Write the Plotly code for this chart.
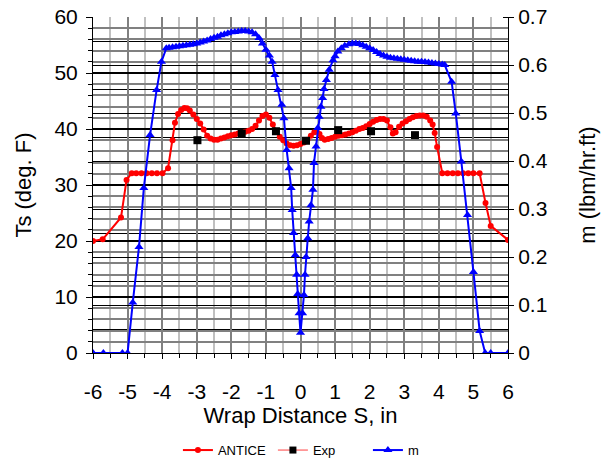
import plotly.graph_objects as go

# ANTICE (Ts, deg F) vs wrap distance S
antice_s = [-6.0, -5.72, -5.19, -5.03, -4.88, -4.75, -4.6, -4.45, -4.3, -4.15, -3.99, -3.83,
            -3.7, -3.63, -3.54, -3.45, -3.36, -3.28, -3.2, -3.1, -3.0, -2.9, -2.8, -2.7,
            -2.6, -2.5, -2.4, -2.3, -2.2, -2.1, -2.0, -1.9, -1.8, -1.7, -1.6, -1.5, -1.4,
            -1.3, -1.2, -1.1, -1.0, -0.9, -0.8, -0.7, -0.6, -0.5, -0.4, -0.3, -0.2, -0.1,
            0.0, 0.1, 0.2, 0.3, 0.4, 0.47, 0.55, 0.62, 0.7, 0.8, 0.9, 1.0, 1.1, 1.2, 1.3,
            1.4, 1.5, 1.6, 1.7, 1.8, 1.9, 2.0, 2.1, 2.2, 2.3, 2.4, 2.5, 2.6, 2.67, 2.75,
            2.85, 2.95, 3.05, 3.15, 3.25, 3.35, 3.45, 3.55, 3.65, 3.75, 3.82, 3.88, 3.95,
            4.1, 4.25, 4.4, 4.55, 4.7, 4.85, 5.0, 5.18, 5.35, 5.5, 6.0]
antice_ts = [20.0, 20.3, 24.2, 30.9, 32.1, 32.1, 32.1, 32.1, 32.1, 32.1, 32.1, 33.0,
             38.0, 41.1, 42.7, 43.4, 43.75, 43.7, 43.3, 42.6, 41.8, 41.0, 39.9, 38.8,
             38.3, 38.1, 38.1, 38.3, 38.5, 38.7, 38.9, 39.0, 39.2, 39.3, 39.5, 39.7, 40.0,
             40.6, 41.5, 42.3, 42.6, 42.0, 40.8, 39.6, 38.6, 38.0, 37.4, 37.1, 37.0, 37.1,
             37.3, 37.6, 38.1, 38.8, 39.4, 39.6, 39.1, 38.4, 38.1, 38.2, 38.4, 38.6, 38.8,
             38.9, 39.0, 39.2, 39.4, 39.7, 40.0, 40.2, 40.5, 40.9, 41.3, 41.6, 41.8, 41.8,
             41.5, 40.3, 39.2, 39.4, 40.4, 41.0, 41.4, 41.8, 42.1, 42.3, 42.4, 42.4, 42.2,
             41.5, 40.8, 39.3, 36.8, 32.1, 32.1, 32.1, 32.1, 32.1, 32.1, 32.1, 32.1, 26.8,
             22.7, 20.2]

# Experimental Ts
exp_s = [-2.98, -1.7, -0.71, 0.16, 1.09, 2.04, 3.31]
exp_ts = [38.0, 39.2, 39.6, 37.9, 39.8, 39.6, 38.9]

# m (lbm/hr.ft), right axis
m_s = [-6.0, -5.7, -5.15, -5.0, -4.85, -4.67, -4.53, -4.35, -4.16, -4.02, -3.88, -3.8,
       -3.7, -3.6, -3.5, -3.4, -3.3, -3.2, -3.1, -3.0, -2.9, -2.8, -2.7, -2.6, -2.5,
       -2.4, -2.3, -2.2, -2.1, -2.0, -1.9, -1.8, -1.7, -1.6, -1.5, -1.4, -1.3, -1.2,
       -1.1, -1.0, -0.9, -0.82, -0.74, -0.65, -0.54, -0.48, -0.4, -0.33, -0.27, -0.24,
       -0.2, -0.15, -0.11, -0.08, -0.04, 0.0, 0.06, 0.1, 0.13, 0.16, 0.21, 0.25, 0.3,
       0.36, 0.39, 0.45, 0.5, 0.54, 0.59, 0.64, 0.68, 0.75, 0.83, 0.94, 1.0, 1.08,
       1.18, 1.28, 1.4, 1.5, 1.6, 1.7, 1.8, 1.9, 2.0, 2.1, 2.2, 2.3, 2.4, 2.5, 2.6,
       2.7, 2.8, 2.9, 3.0, 3.1, 3.2, 3.3, 3.4, 3.5, 3.6, 3.7, 3.8, 3.9, 4.0, 4.1,
       4.17, 4.37, 4.49, 4.65, 4.83, 5.0, 5.18, 5.34, 5.5, 6.0]
m_val = [0.0, 0.0, 0.0, 0.0, 0.105, 0.221, 0.344, 0.454, 0.548, 0.607, 0.635, 0.636,
         0.637, 0.638, 0.639, 0.640, 0.641, 0.642, 0.643, 0.645, 0.647, 0.649, 0.651,
         0.654, 0.657, 0.659, 0.662, 0.664, 0.666, 0.668, 0.669, 0.670, 0.671, 0.671,
         0.670, 0.668, 0.664, 0.656, 0.645, 0.632, 0.620, 0.607, 0.579, 0.548, 0.517,
         0.489, 0.423, 0.385, 0.344, 0.298, 0.25, 0.204, 0.163, 0.123, 0.083, 0.042,
         0.083, 0.121, 0.163, 0.2, 0.239, 0.274, 0.308, 0.34, 0.396, 0.43, 0.469, 0.492,
         0.513, 0.531, 0.55, 0.569, 0.59, 0.61, 0.618, 0.628, 0.635, 0.64, 0.643, 0.645,
         0.645, 0.644, 0.641, 0.638, 0.635, 0.631, 0.627, 0.623, 0.620, 0.617, 0.615,
         0.614, 0.613, 0.612, 0.611, 0.610, 0.609, 0.608, 0.607, 0.607, 0.606, 0.605,
         0.604, 0.603, 0.602, 0.601, 0.600, 0.565, 0.499, 0.399, 0.2875, 0.169, 0.046,
         0.0, 0.0, 0.0]

# Tick labels
x_ticks = [-6, -5, -4, -3, -2, -1, 0, 1, 2, 3, 4, 5, 6]
x_ticktext = ["-6", "-5", "-4", "-3", "-2", "-1", "0", "1", "2", "3", "4", "5", "6"]
y2_ticks = [0, 0.1, 0.2, 0.3, 0.4, 0.5, 0.6, 0.7]
y2_ticktext = ["0", "0.1", "0.2", "0.3", "0.4", "0.5", "0.6", "0.7"]

FONT = "Liberation Sans, Arial, sans-serif"

fig = go.Figure()
fig.add_trace(go.Scatter(x=antice_s, y=antice_ts, name="ANTICE", mode="lines+markers",
                         line=dict(color="#ff0000", width=2),
                         marker=dict(symbol="circle", size=6, color="#ff0000")))
fig.add_trace(go.Scatter(x=[None], y=[None], name="Exp", mode="lines+markers",
                         line=dict(color="#ff4040", width=1),
                         marker=dict(symbol="square", size=7, color="#000000")))
fig.add_trace(go.Scatter(x=exp_s, y=exp_ts, name="Exp", mode="markers", showlegend=False,
                         marker=dict(symbol="square", size=8, color="#000000")))
fig.add_trace(go.Scatter(x=m_s, y=m_val, name="m", mode="lines+markers", yaxis="y2",
                         line=dict(color="#0000ff", width=2),
                         marker=dict(symbol="triangle-up", size=8, color="#0000ff")))

fig.update_layout(
    width=604, height=465,
    margin=dict(l=93, r=96, t=17, b=112, autoexpand=False),
    paper_bgcolor="white", plot_bgcolor="white",
    font=dict(family=FONT, size=21, color="black"),
    showlegend=True,
    legend=dict(orientation="h", x=0.548, xanchor="center", y=-0.289, yanchor="middle",
                font=dict(size=13), entrywidth=50, traceorder="normal"),
    xaxis=dict(range=[-6, 6], tickvals=x_ticks, ticktext=x_ticktext, showgrid=True,
               gridcolor="#808080", gridwidth=2, zeroline=False, showline=True,
               linecolor="black", linewidth=1, automargin=False,
               ticks="outside", ticklen=5, tickcolor="black", ticklabelstandoff=15,
               minor=dict(dtick=0.5, showgrid=True, gridcolor="#c0c0c0", gridwidth=2,
                          ticks="outside", ticklen=4, tickcolor="black"),
               title=dict(text="Wrap Distance S, in", font=dict(size=22), standoff=0)),
    yaxis=dict(range=[0, 60], dtick=10, showgrid=True, gridcolor="black", gridwidth=1.5,
               zeroline=False, showline=True, linecolor="black", linewidth=1,
               automargin=False, ticks="outside", ticklen=6, tickcolor="black",
               ticklabelstandoff=4,
               minor=dict(dtick=2, showgrid=True, gridcolor="#808080", gridwidth=1.5,
                          ticks="outside", ticklen=4, tickcolor="black"),
               title=dict(text="Ts (deg. F)", font=dict(size=22), standoff=16)),
    yaxis2=dict(range=[0, 0.7], tickvals=y2_ticks, ticktext=y2_ticktext, overlaying="y",
                side="right", showgrid=True, automargin=False,
                gridcolor="black", gridwidth=1, zeroline=False, showline=True,
                linecolor="black", linewidth=1, ticks="outside", ticklen=5,
                tickcolor="black",
                minor=dict(dtick=0.05, showgrid=True, gridcolor="black", gridwidth=1,
                           ticks="inside", ticklen=5, tickcolor="black"),
                title=dict(text="m (lbm/hr.ft)", font=dict(size=22), standoff=32)),
)

fig.write_html("out.html")
